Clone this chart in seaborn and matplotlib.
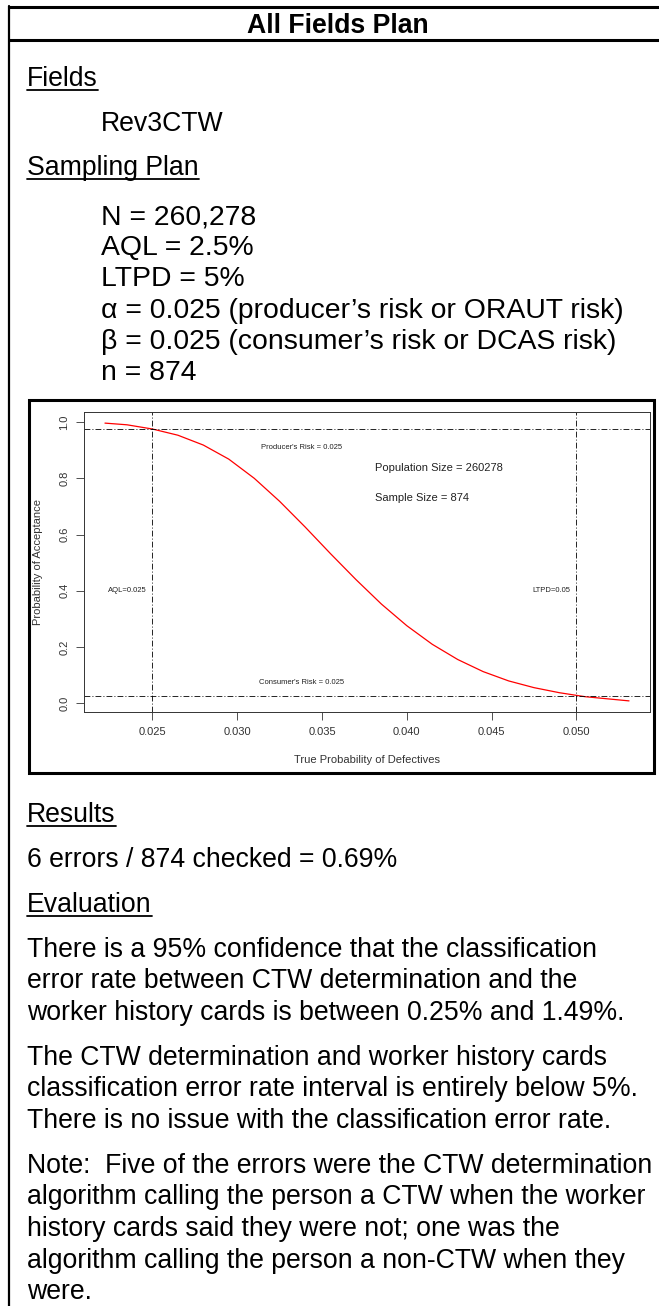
"""
All Fields Plan - sampling plan summary with OC curve
"""

import matplotlib
matplotlib.use('Agg')
import matplotlib.pyplot as plt
import seaborn as sns
from matplotlib.lines import Line2D
from matplotlib.patches import Rectangle

# ---- text content ----
TITLE = 'All Fields Plan'
FIELDS = ['Rev3CTW']
PLAN_LINES = [
    'N = 260,278',
    'AQL = 2.5%',
    'LTPD = 5%',
    'α = 0.025 (producer’s risk or ORAUT risk)',
    'β = 0.025 (consumer’s risk or DCAS risk)',
    'n = 874',
]
RESULT_LINE = '6 errors / 874 checked = 0.69%'
EVAL_PARAS = [
    ['There is a 95% confidence that the classification',
     'error rate between CTW determination and the',
     'worker history cards is between 0.25% and 1.49%.'],
    ['The CTW determination and worker history cards',
     'classification error rate interval is entirely below 5%.',
     'There is no issue with the classification error rate.'],
    ['Note:  Five of the errors were the CTW determination',
     'algorithm calling the person a CTW when the worker',
     'history cards said they were not; one was the',
     'algorithm calling the person a non-CTW when they',
     'were.'],
]

# ---- OC curve values ----
P_DEFECT = [0.0222, 0.0235, 0.0250, 0.0265, 0.0280, 0.0295, 0.0310, 0.0325,
            0.0340, 0.0355, 0.0370, 0.0385, 0.0400, 0.0415, 0.0430, 0.0445,
            0.0460, 0.0475, 0.0490, 0.0505, 0.0531]
P_ACCEPT = [0.996, 0.990, 0.975, 0.953, 0.918, 0.868, 0.800, 0.718,
            0.627, 0.532, 0.440, 0.353, 0.276, 0.210, 0.156, 0.113,
            0.080, 0.056, 0.038, 0.024, 0.009]
AQL = 0.025
LTPD = 0.05
PRODUCER_RISK = 0.025
CONSUMER_RISK = 0.025
POP_SIZE = 260278
SAMPLE_SIZE = 874
X_TICKS = [0.025, 0.030, 0.035, 0.040, 0.045, 0.050]
Y_TICKS = [0.0, 0.2, 0.4, 0.6, 0.8, 1.0]

W, H = 659, 1306
BODY = 19.15
PLAN = 20.4
LINE = 31.5
PARA = 45
BORDER_X = 9
TEXT_X = 27
INDENT_X = 101


def fx(x):
    return x / W


def fy(y):
    return 1 - y / H


sns.set_style('ticks')
plt.rcParams['font.family'] = ['Liberation Sans', 'DejaVu Sans']

fig = plt.figure(figsize=(W / 100, H / 100), dpi=100)

texts = []


def put(x, y, s, underline=False, size=BODY, **kw):
    t = fig.text(fx(x), fy(y), s, fontsize=size, va='baseline',
                 color='black', **kw)
    if underline:
        texts.append((t, y))
    return t


# table borders
fig.add_artist(Line2D([fx(BORDER_X), 1], [fy(7), fy(7)], color='black', lw=2.2))
fig.add_artist(Line2D([fx(BORDER_X), 1], [fy(40), fy(40)], color='black', lw=2.2))
fig.add_artist(Line2D([fx(BORDER_X), fx(BORDER_X)], [fy(6), 0], color='black', lw=1.6))

put(338, 33, TITLE, ha='center', fontweight='bold')

# upper section
put(TEXT_X, 86, 'Fields', underline=True)
put(INDENT_X, 131, FIELDS[0])
put(TEXT_X, 175, 'Sampling Plan', underline=True)
for i, s in enumerate(PLAN_LINES):
    put(INDENT_X, 224 + i * 31.2, s, size=PLAN)

# chart frame (embedded picture)
fig.add_artist(Rectangle((fx(29), fy(773)), fx(654) - fx(29), fy(400) - fy(773),
                         fill=False, edgecolor='black', lw=2.2,
                         transform=fig.transFigure))

ax = fig.add_axes([fx(84), fy(712), fx(650) - fx(84), fy(412) - fy(712)])
sns.lineplot(x=P_DEFECT, y=P_ACCEPT, color='red', lw=0.9, ax=ax)

dotdash = (0, (7, 2.5, 1.2, 2.5))
for yv in [1 - PRODUCER_RISK, CONSUMER_RISK]:
    ax.axhline(yv, color='black', lw=0.6, ls=dotdash)
for xv in [AQL, LTPD]:
    ax.axvline(xv, color='black', lw=0.6, ls=dotdash)

pad_x = (max(P_DEFECT) - min(P_DEFECT)) * 0.04
pad_y = (max(P_ACCEPT) - min(P_ACCEPT)) * 0.04
ax.set_xlim(min(P_DEFECT) - pad_x, max(P_DEFECT) + pad_x)
ax.set_ylim(min(P_ACCEPT) - pad_y, max(P_ACCEPT) + pad_y)

ax.set_xticks(X_TICKS)
ax.set_xticklabels([f'{v:.3f}' for v in X_TICKS])
ax.set_yticks(Y_TICKS)
ax.set_yticklabels([f'{v:.1f}' for v in Y_TICKS], rotation=90, va='center')
ax.tick_params(axis='both', labelsize=8, length=5.5, width=0.6,
               colors='#333333', pad=5)
for sp in ax.spines.values():
    sp.set_visible(True)
    sp.set_color('#333333')
    sp.set_linewidth(0.7)

ax.set_xlabel('True Probability of Defectives', fontsize=8, color='#333333')
ax.set_ylabel('Probability of Acceptance', fontsize=8, color='#333333')
ax.xaxis.set_label_coords(0.5, -0.16)
ax.xaxis.label.set_va('center')
ax.yaxis.set_label_coords(-0.081, 0.5)
ax.yaxis.label.set_va('center')

small = dict(fontsize=5.5, color='#222222', ha='center', va='center')
ax.text(0.0338, 0.91, f"Producer's Risk = {PRODUCER_RISK}", **small)
ax.text(0.0338, 0.075, f"Consumer's Risk = {CONSUMER_RISK}", **small)
ax.text(0.0235, 0.4, f'AQL={AQL}', **small)
ax.text(0.0485, 0.4, f'LTPD={LTPD}', **small)
ax.text(0.0381, 0.836, f'Population Size = {POP_SIZE}', fontsize=8,
        color='#222222', ha='left', va='center')
ax.text(0.0381, 0.73, f'Sample Size = {SAMPLE_SIZE}', fontsize=8,
        color='#222222', ha='left', va='center')

# lower section
y = 822
put(TEXT_X, y, 'Results', underline=True)
y += PARA
put(TEXT_X, y, RESULT_LINE)
y += PARA
put(TEXT_X, y, 'Evaluation', underline=True)
for para in EVAL_PARAS:
    y += PARA
    for j, s in enumerate(para):
        put(TEXT_X, y, s)
        if j < len(para) - 1:
            y += LINE

# underline headings
fig.canvas.draw()
renderer = fig.canvas.get_renderer()
for t, yb in texts:
    bb = t.get_window_extent(renderer)
    fig.add_artist(Line2D([bb.x0 / W, bb.x1 / W], [fy(yb + 4), fy(yb + 4)],
                          color='black', lw=1.3))

fig.savefig('out.png', dpi=100)
plt.close(fig)
